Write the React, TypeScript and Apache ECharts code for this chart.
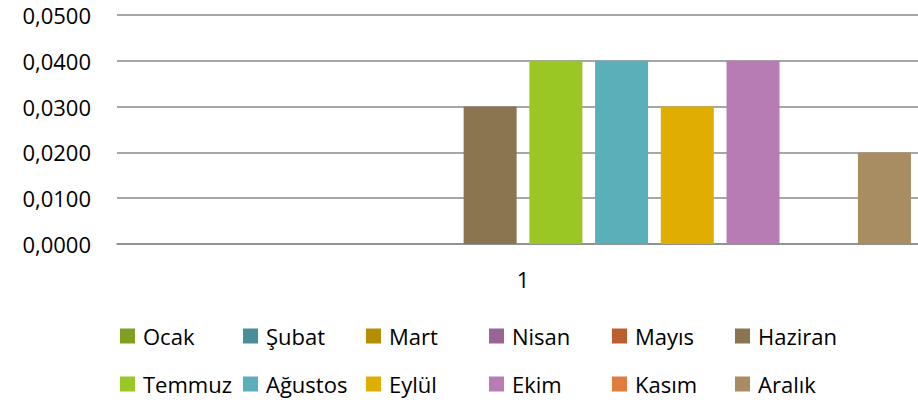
import React, { useEffect, useRef } from "react";
import * as echarts from "echarts";

const categories = ["1"];
const seriesNames = ["Ocak", "Şubat", "Mart", "Nisan", "Mayıs", "Haziran", "Temmuz", "Ağustos", "Eylül", "Ekim", "Kasım", "Aralık"];
const seriesValues = [0, 0, 0, 0, 0, 0.03, 0.04, 0.04, 0.03, 0.04, 0, 0.02];
const seriesColors = ["#7f9f20", "#4a8f98", "#b58e00", "#9a6497", "#bb5f2e", "#8b7551", "#9bc724", "#5aafb8", "#dfae00", "#b67cb3", "#e07c3e", "#a88d62"];

const FONT = "Open Sans";

export default function App() {
  const ref = useRef<HTMLDivElement>(null);
  useEffect(() => {
    if (!ref.current) return;
    const chart = echarts.init(ref.current, undefined, { renderer: "svg" });
    const legends = [0, 1, 2, 3, 4, 5].map((i) => ({
      orient: "vertical" as const,
      left: 120 + 123 * i,
      top: 322,
      itemWidth: 15,
      itemHeight: 15,
      itemGap: 20,
      icon: "rect",
      padding: 0,
      data: [seriesNames[i], seriesNames[i + 6]],
      textStyle: { fontFamily: FONT, fontSize: 22, color: "#000", padding: [0, 0, 0, 3], lineHeight: 28 },
    }));
    chart.setOption({
      animation: false,
      color: seriesColors,
      grid: { left: 117, top: 15, height: 229, width: 812, containLabel: false, outerBoundsMode: "none" },
      legend: legends,
      xAxis: {
        type: "category",
        data: categories,
        axisLine: { show: true, lineStyle: { color: "#8a8a8a", width: 1.5 } },
        axisTick: { show: false },
        axisLabel: { margin: 24, fontFamily: FONT, fontSize: 22, color: "#000" },
      },
      yAxis: {
        type: "value",
        min: 0,
        max: 0.05,
        interval: 0.01,
        axisLine: { show: false },
        axisTick: { show: false },
        splitLine: { lineStyle: { color: "#8a8a8a", width: 1.5 } },
        axisLabel: {
          margin: 26,
          fontFamily: FONT,
          fontSize: 22,
          color: "#000",
          formatter: (v: number) => v.toFixed(4).replace(".", ","),
        },
      },
      series: seriesNames.map((name, i) => ({
        name,
        type: "bar",
        data: [seriesValues[i]],
        barWidth: 53,
        barGap: "24%",
        itemStyle: { color: seriesColors[i] },
      })),
    });
    return () => chart.dispose();
  }, []);
  return <div ref={ref} style={{ width: 918, height: 403, position: "absolute", left: 0, top: 0 }} />;
}
